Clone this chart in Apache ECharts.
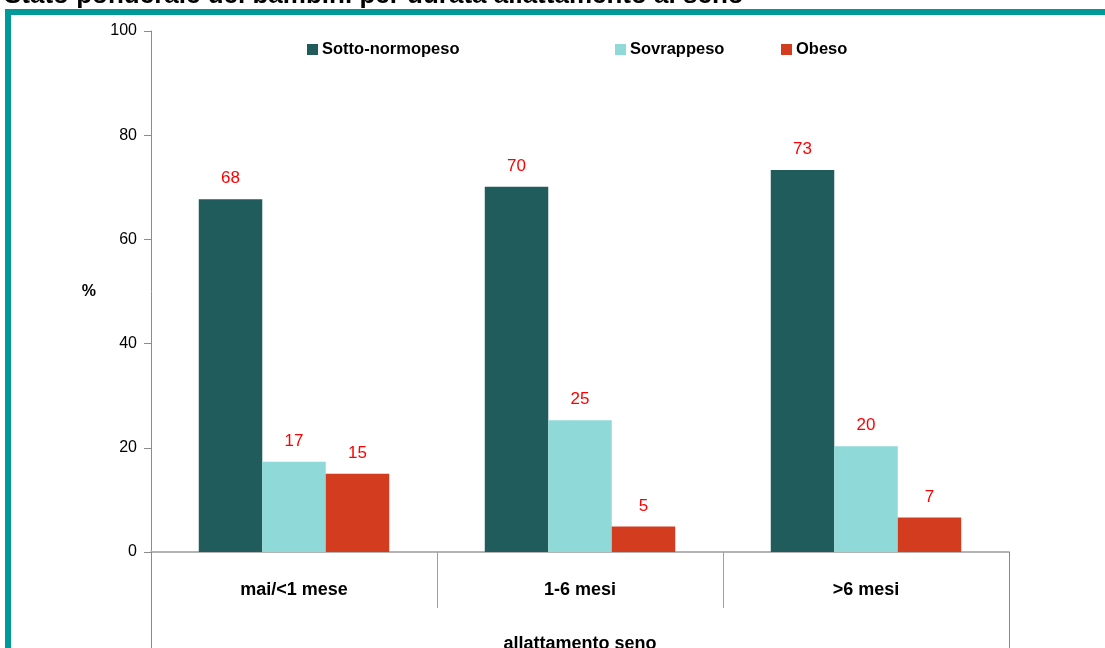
<!DOCTYPE html>
<html>
<head>
<meta charset="utf-8">
<script src="https://cdn.jsdelivr.net/npm/echarts@6/dist/echarts.min.js"></script>
<style>
  html, body { margin: 0; padding: 0; background: #ffffff; overflow: hidden; }
  #wrap { position: relative; width: 1105px; height: 648px; }
  #chart { position: absolute; left: 0; top: 0; width: 1105px; height: 648px; }
  #frame { position: absolute; left: 5px; top: 9px; width: 1100px; height: 639px;
           border-top: 6px solid #009999; border-left: 6px solid #009999; box-sizing: border-box; pointer-events: none; }
  #title { position: absolute; left: 4px; top: -21px; font: bold 26px "Liberation Sans", Arial, sans-serif; color: #000; white-space: nowrap; }
</style>
</head>
<body>
<div id="wrap">
  <div id="chart"></div>
  <div id="title">Stato ponderale dei bambini per durata allattamento al seno</div>
  <div id="frame"></div>
</div>
<script>
// ---- data ----
const categories = ['mai/<1 mese', '1-6 mesi', '>6 mesi'];
const outerCategory = ['allattamento seno'];
const sottoNormopeso = [67.7, 70.1, 73.3];
const sovrappeso = [17.3, 25.3, 20.3];
const obeso = [15.0, 4.9, 6.6];
const seriesNames = ['Sotto-normopeso', 'Sovrappeso', 'Obeso'];
const yTicks = [0, 20, 40, 60, 80, 100];

const FONT = '"Liberation Sans", Arial, sans-serif';
const colors = ['#1f5c5b', '#8fdad9', '#d33c1e'];

const chart = echarts.init(document.getElementById('chart'));

const labelCfg = {
  show: true,
  position: 'top',
  distance: 12,
  color: '#ff0000',
  fontFamily: FONT,
  fontSize: 17,
  formatter: p => Math.round(p.value)
};

function legendFor(name, left) {
  return {
    data: [name],
    left: left,
    top: 36,
    icon: 'rect',
    itemWidth: 11,
    itemHeight: 11,
    itemGap: 4,
    selectedMode: false,
    textStyle: { fontFamily: FONT, fontWeight: 'bold', fontSize: 16.5, color: '#000', padding: [0, 0, 0, -1] }
  };
}

chart.setOption({
  animation: false,
  backgroundColor: '#ffffff',
  color: colors,
  legend: [
    legendFor(seriesNames[0], 302),
    legendFor(seriesNames[1], 610),
    legendFor(seriesNames[2], 776)
  ],
  grid: { left: 151, right: 96, top: 31, bottom: 96, containLabel: false, outerBoundsMode: 'none' },
  xAxis: [
    {
      type: 'category',
      data: categories,
      position: 'bottom',
      axisLine: { show: true, lineStyle: { color: '#b4b4b4', width: 2 } },
      axisTick: { show: true, alignWithLabel: false, length: 56, lineStyle: { color: '#a0a0a0', width: 1 } },
      axisLabel: { margin: 29, fontFamily: FONT, fontWeight: 'bold', fontSize: 18, color: '#000' },
      splitLine: { show: false }
    },
    {
      type: 'category',
      data: outerCategory,
      position: 'bottom',
      axisLine: { show: false },
      axisTick: { show: true, alignWithLabel: false, length: 100, lineStyle: { color: '#888888', width: 1 } },
      axisLabel: { margin: 83, fontFamily: FONT, fontWeight: 'bold', fontSize: 18, color: '#000' },
      splitLine: { show: false }
    }
  ],
  yAxis: {
    type: 'value',
    min: yTicks[0],
    max: yTicks[yTicks.length - 1],
    interval: yTicks[1] - yTicks[0],
    name: '%',
    nameLocation: 'middle',
    nameRotate: 0,
    nameGap: 55,
    nameTextStyle: { fontFamily: FONT, fontWeight: 'bold', fontSize: 16, color: '#000' },
    axisLine: { show: true, lineStyle: { color: '#8c8c8c', width: 1 } },
    axisTick: { show: true, length: 7, lineStyle: { color: '#8c8c8c' } },
    axisLabel: { margin: 14, fontFamily: FONT, fontSize: 16, color: '#000' },
    splitLine: { show: false }
  },
  series: [
    { name: seriesNames[0], type: 'bar', data: sottoNormopeso, barGap: '0%', barCategoryGap: '33.4%', label: labelCfg,
      itemStyle: { color: colors[0] } },
    { name: seriesNames[1], type: 'bar', data: sovrappeso, barGap: '0%', barCategoryGap: '33.4%', label: labelCfg,
      itemStyle: { color: colors[1] } },
    { name: seriesNames[2], type: 'bar', data: obeso, barGap: '0%', barCategoryGap: '33.4%', label: labelCfg,
      itemStyle: { color: colors[2] } }
  ]
});
</script>
</body>
</html>
